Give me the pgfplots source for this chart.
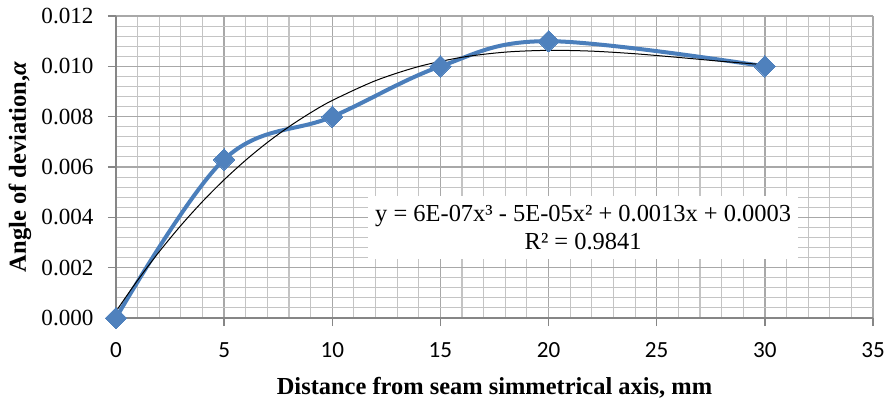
\documentclass[border=0pt]{standalone}
\usepackage{fontspec}
\setmainfont{Liberation Serif}
\newfontfamily\calibri{Carlito}
\usepackage{pgfplots}
\pgfplotsset{compat=1.18}
\definecolor{exblue}{HTML}{4A7EBB}
\definecolor{mkblue}{HTML}{4F81BD}
\definecolor{minorgrid}{HTML}{C4C4C4}
\definecolor{majorgrid}{HTML}{A8A8A8}
\definecolor{axisgray}{HTML}{868686}

\begin{document}
\begin{tikzpicture}
\begin{axis}[
  scale only axis,
  width=340.65pt, height=135.9pt,
  xmin=0, xmax=35, ymin=0, ymax=0.012,
  xtick={0,5,10,15,20,25,30,35},
  ytick={0,0.002,0.004,0.006,0.008,0.010,0.012},
  minor x tick num=4, minor y tick num=4,
  grid=both,
  major grid style={draw=majorgrid, line width=0.6pt},
  minor grid style={draw=minorgrid, line width=0.5pt},
  axis x line*=bottom, axis y line*=left,
  axis line style={draw=axisgray, line width=0.6pt},
  tick align=outside,
  major tick length=3.6pt, minor tick length=0pt,
  tick style={draw=axisgray, line width=0.6pt},
  scaled y ticks=false,
  /pgf/number format/assume math mode=true,
  yticklabel style={font=\fontsize{10.4}{12}\selectfont, xshift=-3pt,
                    /pgf/number format/fixed,
                    /pgf/number format/fixed zerofill,
                    /pgf/number format/precision=3},
  xticklabel style={font=\calibri\fontsize{10.4}{12}\selectfont, yshift=-4pt},
  xlabel={Distance from seam simmetrical axis, mm},
  ylabel={Angle of deviation,\textit{α}},
  every axis x label/.style={at={(rel axis cs:0.5,0)}, anchor=center,
    yshift=-31.5pt, font=\bfseries\fontsize{11}{13}\selectfont},
  every axis y label/.style={at={(rel axis cs:0,0.5)}, anchor=center,
    rotate=90, yshift=43.2pt, font=\bfseries\fontsize{11}{13}\selectfont},
  clip=false,
]
% measured series, smoothed like the spreadsheet line
\addplot[exblue, line width=1.8pt, smooth, tension=0.6,
         mark=square*, mark size=3.4pt,
         mark options={fill=mkblue, draw=mkblue, rotate=45, line width=0pt}]
  coordinates {(0,0) (5,0.0063) (10,0.008) (15,0.010) (20,0.011) (30,0.010)};
% cubic trend line
\addplot[black, line width=0.45pt, smooth, no markers]
  coordinates {(0,0.000265) (1,0.001499) (2,0.002635) (3,0.003677) (4,0.004628)
               (5,0.005492) (6,0.006274) (7,0.006976) (8,0.007602) (9,0.008157)
               (10,0.008645) (12,0.009431) (14,0.009993) (16,0.010361) (18,0.010565)
               (20,0.010636) (22,0.010604) (24,0.010500) (26,0.010355) (28,0.010199)
               (30,0.010064)};
\node[fill=white, align=center, inner sep=0pt, minimum width=193.5pt,
      minimum height=28.4pt, font=\fontsize{11}{12.6}\selectfont]
  at (axis cs:21.6,0.0036)
  {y = 6E-07x³ - 5E-05x² + 0.0013x + 0.0003\\R² = 0.9841};
\end{axis}
\pgfresetboundingbox
\path[use as bounding box] (-52.2pt,-37.35pt) rectangle (347.85pt,143.1pt);
\end{tikzpicture}
\end{document}
